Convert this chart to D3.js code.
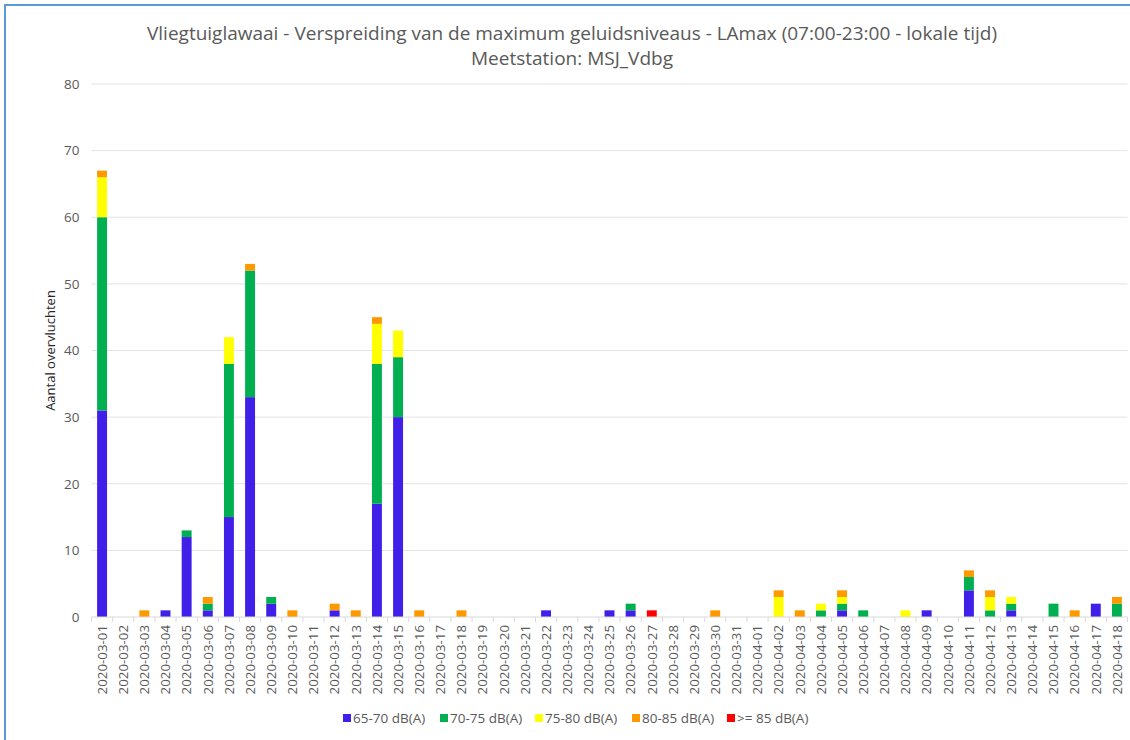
<!DOCTYPE html>
<html>
<head>
<meta charset="utf-8">
<script src="https://cdn.jsdelivr.net/npm/d3@7"></script>
<style>
  body { margin: 0; background: #fff; }
  text { font-family: "Open Sans", "Noto Sans", sans-serif; fill: #595959; }
</style>
</head>
<body>
<svg id="chart" width="1130" height="740"></svg>
<script>
// Dates shown on the x axis (one bar per day)
const dates = [
  "2020-03-01","2020-03-02","2020-03-03","2020-03-04","2020-03-05","2020-03-06","2020-03-07",
  "2020-03-08","2020-03-09","2020-03-10","2020-03-11","2020-03-12","2020-03-13","2020-03-14",
  "2020-03-15","2020-03-16","2020-03-17","2020-03-18","2020-03-19","2020-03-20","2020-03-21",
  "2020-03-22","2020-03-23","2020-03-24","2020-03-25","2020-03-26","2020-03-27","2020-03-28",
  "2020-03-29","2020-03-30","2020-03-31","2020-04-01","2020-04-02","2020-04-03","2020-04-04",
  "2020-04-05","2020-04-06","2020-04-07","2020-04-08","2020-04-09","2020-04-10","2020-04-11",
  "2020-04-12","2020-04-13","2020-04-14","2020-04-15","2020-04-16","2020-04-17","2020-04-18"
];

const seriesNames = ["65-70 dB(A)", "70-75 dB(A)", "75-80 dB(A)", "80-85 dB(A)", ">= 85 dB(A)"];
const seriesColors = ["#4020e8", "#00b050", "#ffff00", "#ff9900", "#ff0000"];

// counts per day, one array per noise class
const s65 = [31,0,0,1,12,1,15,33,2,0,0,1,0,17,30,0,0,0,0,0,0,1,0,0,1,1,0,0,0,0,0,0,0,0,0,1,0,0,0,1,0,4,0,1,0,0,0,2,0];
const s70 = [29,0,0,0,1,1,23,19,1,0,0,0,0,21,9,0,0,0,0,0,0,0,0,0,0,1,0,0,0,0,0,0,0,0,1,1,1,0,0,0,0,2,1,1,0,2,0,0,2];
const s75 = [6,0,0,0,0,0,4,0,0,0,0,0,0,6,4,0,0,0,0,0,0,0,0,0,0,0,0,0,0,0,0,0,3,0,1,1,0,0,1,0,0,0,2,1,0,0,0,0,0];
const s80 = [1,0,1,0,0,1,0,1,0,1,0,1,1,1,0,1,0,1,0,0,0,0,0,0,0,0,0,0,0,1,0,0,1,1,0,1,0,0,0,0,0,1,1,0,0,0,1,0,1];
const s85 = [0,0,0,0,0,0,0,0,0,0,0,0,0,0,0,0,0,0,0,0,0,0,0,0,0,0,1,0,0,0,0,0,0,0,0,0,0,0,0,0,0,0,0,0,0,0,0,0,0];

const yTicks = [0, 10, 20, 30, 40, 50, 60, 70, 80];

const titleLines = [
  "Vliegtuiglawaai - Verspreiding van de maximum geluidsniveaus - LAmax (07:00-23:00 - lokale tijd)",
  "Meetstation: MSJ_Vdbg"
];

const seriesValues = [s65, s70, s75, s80, s85];
const rows = dates.map((d, i) => {
  const r = { date: d };
  seriesNames.forEach((n, k) => { r[n] = seriesValues[k][i]; });
  return r;
});

const svg = d3.select("#chart");
const margin = { left: 91.5, right: 1127.5, top: 84, bottom: 617 };

// chart frame border (only top and left edges fall inside the picture)
svg.append("rect")
  .attr("x", 5).attr("y", 5)
  .attr("width", 1140).attr("height", 760)
  .attr("fill", "none")
  .attr("stroke", "#5b9bd5")
  .attr("stroke-width", 2);

const x = d3.scaleBand()
  .domain(dates)
  .range([margin.left, margin.right])
  .paddingInner(0.53)
  .paddingOuter(0.265);

const y = d3.scaleLinear()
  .domain([0, 80])
  .range([margin.bottom, margin.top]);

// gridlines
svg.append("g")
  .selectAll("line")
  .data(yTicks.filter(t => t > 0))
  .join("line")
  .attr("x1", margin.left).attr("x2", margin.right)
  .attr("y1", d => y(d)).attr("y2", d => y(d))
  .attr("stroke", "#e3e3e3")
  .attr("stroke-width", 1);

// y axis labels
const yAxis = d3.axisLeft(y).tickValues(yTicks).tickSize(0).tickPadding(12);
svg.append("g")
  .attr("transform", `translate(${margin.left},0)`)
  .call(yAxis)
  .call(g => g.select(".domain").remove())
  .selectAll("text")
  .style("font-size", "13.5px")
  .attr("fill", "#595959")
  .style("font-family", "'Open Sans', sans-serif");

// stacked bars
const stack = d3.stack().keys(seriesNames);
const layers = stack(rows);

svg.append("g")
  .selectAll("g")
  .data(layers)
  .join("g")
  .attr("fill", (d, i) => seriesColors[i])
  .selectAll("rect")
  .data(d => d.filter(v => v[1] > v[0]))
  .join("rect")
  .attr("x", d => x(d.data.date))
  .attr("width", x.bandwidth())
  .attr("y", d => y(d[1]))
  .attr("height", d => y(d[0]) - y(d[1]));

// x axis line and tick marks between categories
const step = x.step();
const xg = svg.append("g");
xg.append("line")
  .attr("x1", margin.left).attr("x2", margin.right)
  .attr("y1", y(0)).attr("y2", y(0))
  .attr("stroke", "#d9d9d9");
xg.selectAll("line.tick")
  .data(d3.range(dates.length + 1))
  .join("line")
  .attr("class", "tick")
  .attr("x1", i => margin.left + i * step)
  .attr("x2", i => margin.left + i * step)
  .attr("y1", y(0)).attr("y2", y(0) + 5)
  .attr("stroke", "#d9d9d9");

xg.selectAll("text")
  .data(dates)
  .join("text")
  .attr("transform", d => `translate(${x(d) + x.bandwidth() / 2 + 4.8},${y(0) + 8}) rotate(-90)`)
  .attr("text-anchor", "end")
  .style("font-size", "13.3px")
  .text(d => d);

// y axis title
svg.append("text")
  .attr("transform", `translate(55,${(margin.top + margin.bottom) / 2}) rotate(-90)`)
  .attr("text-anchor", "middle")
  .style("font-size", "13px")
  .style("fill", "#262626")
  .text("Aantal overvluchten");

// title
svg.append("g")
  .selectAll("text")
  .data(titleLines)
  .join("text")
  .attr("x", 572)
  .attr("y", (d, i) => 40 + i * 25)
  .attr("text-anchor", "middle")
  .style("font-size", "19px")
  .text(d => d);

// legend
const legendX = [343, 440, 535, 632, 727];
const lg = svg.append("g")
  .selectAll("g")
  .data(seriesNames)
  .join("g")
  .attr("transform", (d, i) => `translate(${legendX[i]},718)`);
lg.append("rect")
  .attr("x", 0).attr("y", -4)
  .attr("width", 8).attr("height", 8)
  .attr("fill", (d, i) => seriesColors[i]);
lg.append("text")
  .attr("x", 10).attr("y", 5)
  .style("font-size", "13.5px")
  .text(d => d);
</script>
</body>
</html>
